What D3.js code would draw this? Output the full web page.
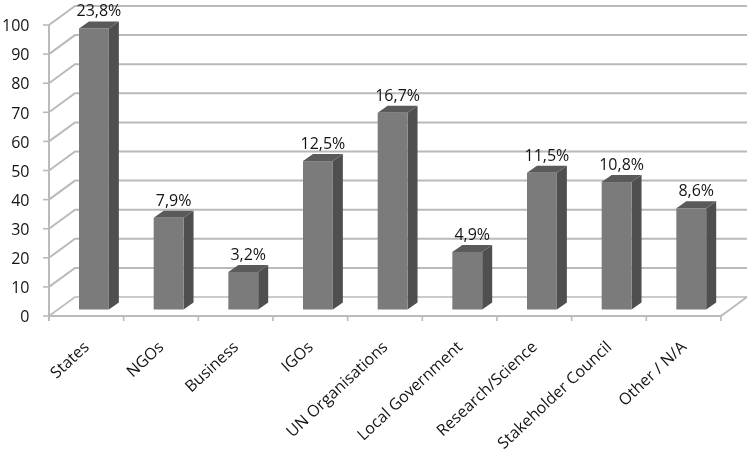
<!DOCTYPE html>
<html><head><meta charset="utf-8">
<script src="https://cdn.jsdelivr.net/npm/d3@7"></script>
<style>html,body{margin:0;padding:0;background:#fff}svg{display:block}text{font-family:"Open Sans",sans-serif;fill:#141414}</style>
</head><body><div id="c"></div>
<script>
const categories=["States","NGOs","Business","IGOs","UN Organisations","Local Government","Research/Science","Stakeholder Council","Other / N/A"];
const values=[96.6,31.5,12.9,51,67.6,19.8,47,43.8,34.8];
const pctLabels=["23,8%","7,9%","3,2%","12,5%","16,7%","4,9%","11,5%","10,8%","8,6%"];
const yTicks=[0,10,20,30,40,50,60,70,80,90,100];

const W=750,H=456;
const left=49,right=721,y0=316,y100=25,backDx=26,backDy=-19;
const barDx=10,barDy=-7,barBaseShift=-6.5,barShiftX=7.6;
const svg=d3.select("#c").append("svg").attr("width",W).attr("height",H).style("filter","blur(0.45px)");
const x=d3.scaleBand().domain(categories).range([left,right]).paddingInner(0.6).paddingOuter(0.3);
const xTicksScale=d3.scaleBand().domain(categories).range([left,right]);
const y=d3.scaleLinear().domain([0,100]).range([y0,y100]);
const grid="#bababa";

const g=svg.append("g");
yTicks.forEach(t=>{
  g.append("path").attr("d",`M${left},${y(t)}L${left+backDx},${y(t)+backDy}L${right+backDx},${y(t)+backDy}`)
   .attr("fill","none").attr("stroke",grid).attr("stroke-width",t==0?1.6:2);
  g.append("line").attr("x1",left-6).attr("x2",left).attr("y1",y(t)).attr("y2",y(t)).attr("stroke",grid).attr("stroke-width",1.6);
});
g.append("line").attr("x1",left).attr("x2",left).attr("y1",y(100)).attr("y2",y(0)+5).attr("stroke",grid).attr("stroke-width",2);
g.append("path").attr("d",`M${left},${y(0)}L${right},${y(0)}L${right+backDx},${y(0)+backDy}`).attr("fill","none").attr("stroke",grid).attr("stroke-width",1.8);
categories.forEach(c=>{
  const tx=xTicksScale(c)+xTicksScale.bandwidth();
  g.append("line").attr("x1",tx).attr("x2",tx).attr("y1",y0).attr("y2",y0+5).attr("stroke",grid).attr("stroke-width",1.6);
});

svg.selectAll(".yl").data(yTicks).join("text").attr("class","yl")
  .attr("x",29.5).attr("y",d=>y(d)+2).attr("text-anchor","end").attr("dominant-baseline","middle")
  .attr("font-size",16).text(d=>d);

const bars=svg.selectAll(".bar").data(categories).join("g").attr("class","bar");
const bx=c=>x(c)+barShiftX;
const bw=x.bandwidth();
const by=i=>y(values[i])+barBaseShift;
const bb=y(0)+barBaseShift;
bars.append("path").attr("fill","#4f4f4f")
  .attr("d",(c,i)=>`M${bx(c)+bw},${by(i)}L${bx(c)+bw+barDx},${by(i)+barDy}L${bx(c)+bw+barDx},${bb+barDy}L${bx(c)+bw},${bb}Z`);
bars.append("path").attr("fill","#5a5a5a")
  .attr("d",(c,i)=>`M${bx(c)},${by(i)}L${bx(c)+barDx},${by(i)+barDy}L${bx(c)+bw+barDx},${by(i)+barDy}L${bx(c)+bw},${by(i)}Z`);
bars.append("rect").attr("fill","#7b7b7b")
  .attr("x",c=>bx(c)).attr("width",bw).attr("y",(c,i)=>by(i)).attr("height",(c,i)=>bb-by(i));

svg.selectAll(".vl").data(categories).join("text").attr("class","vl")
  .attr("x",c=>bx(c)+bw/2+5).attr("y",(c,i)=>by(i)+barDy-5)
  .attr("text-anchor","middle").attr("font-size",16).text((c,i)=>pctLabels[i]);

svg.selectAll(".cl").data(categories).join("text").attr("class","cl")
  .attr("text-anchor","end").attr("font-size",16)
  .attr("transform",c=>`translate(${xTicksScale(c)+xTicksScale.bandwidth()/2-4},${y0+24}) rotate(-43)`)
  .attr("dy","0.7em").text(c=>c);
</script></body></html>
